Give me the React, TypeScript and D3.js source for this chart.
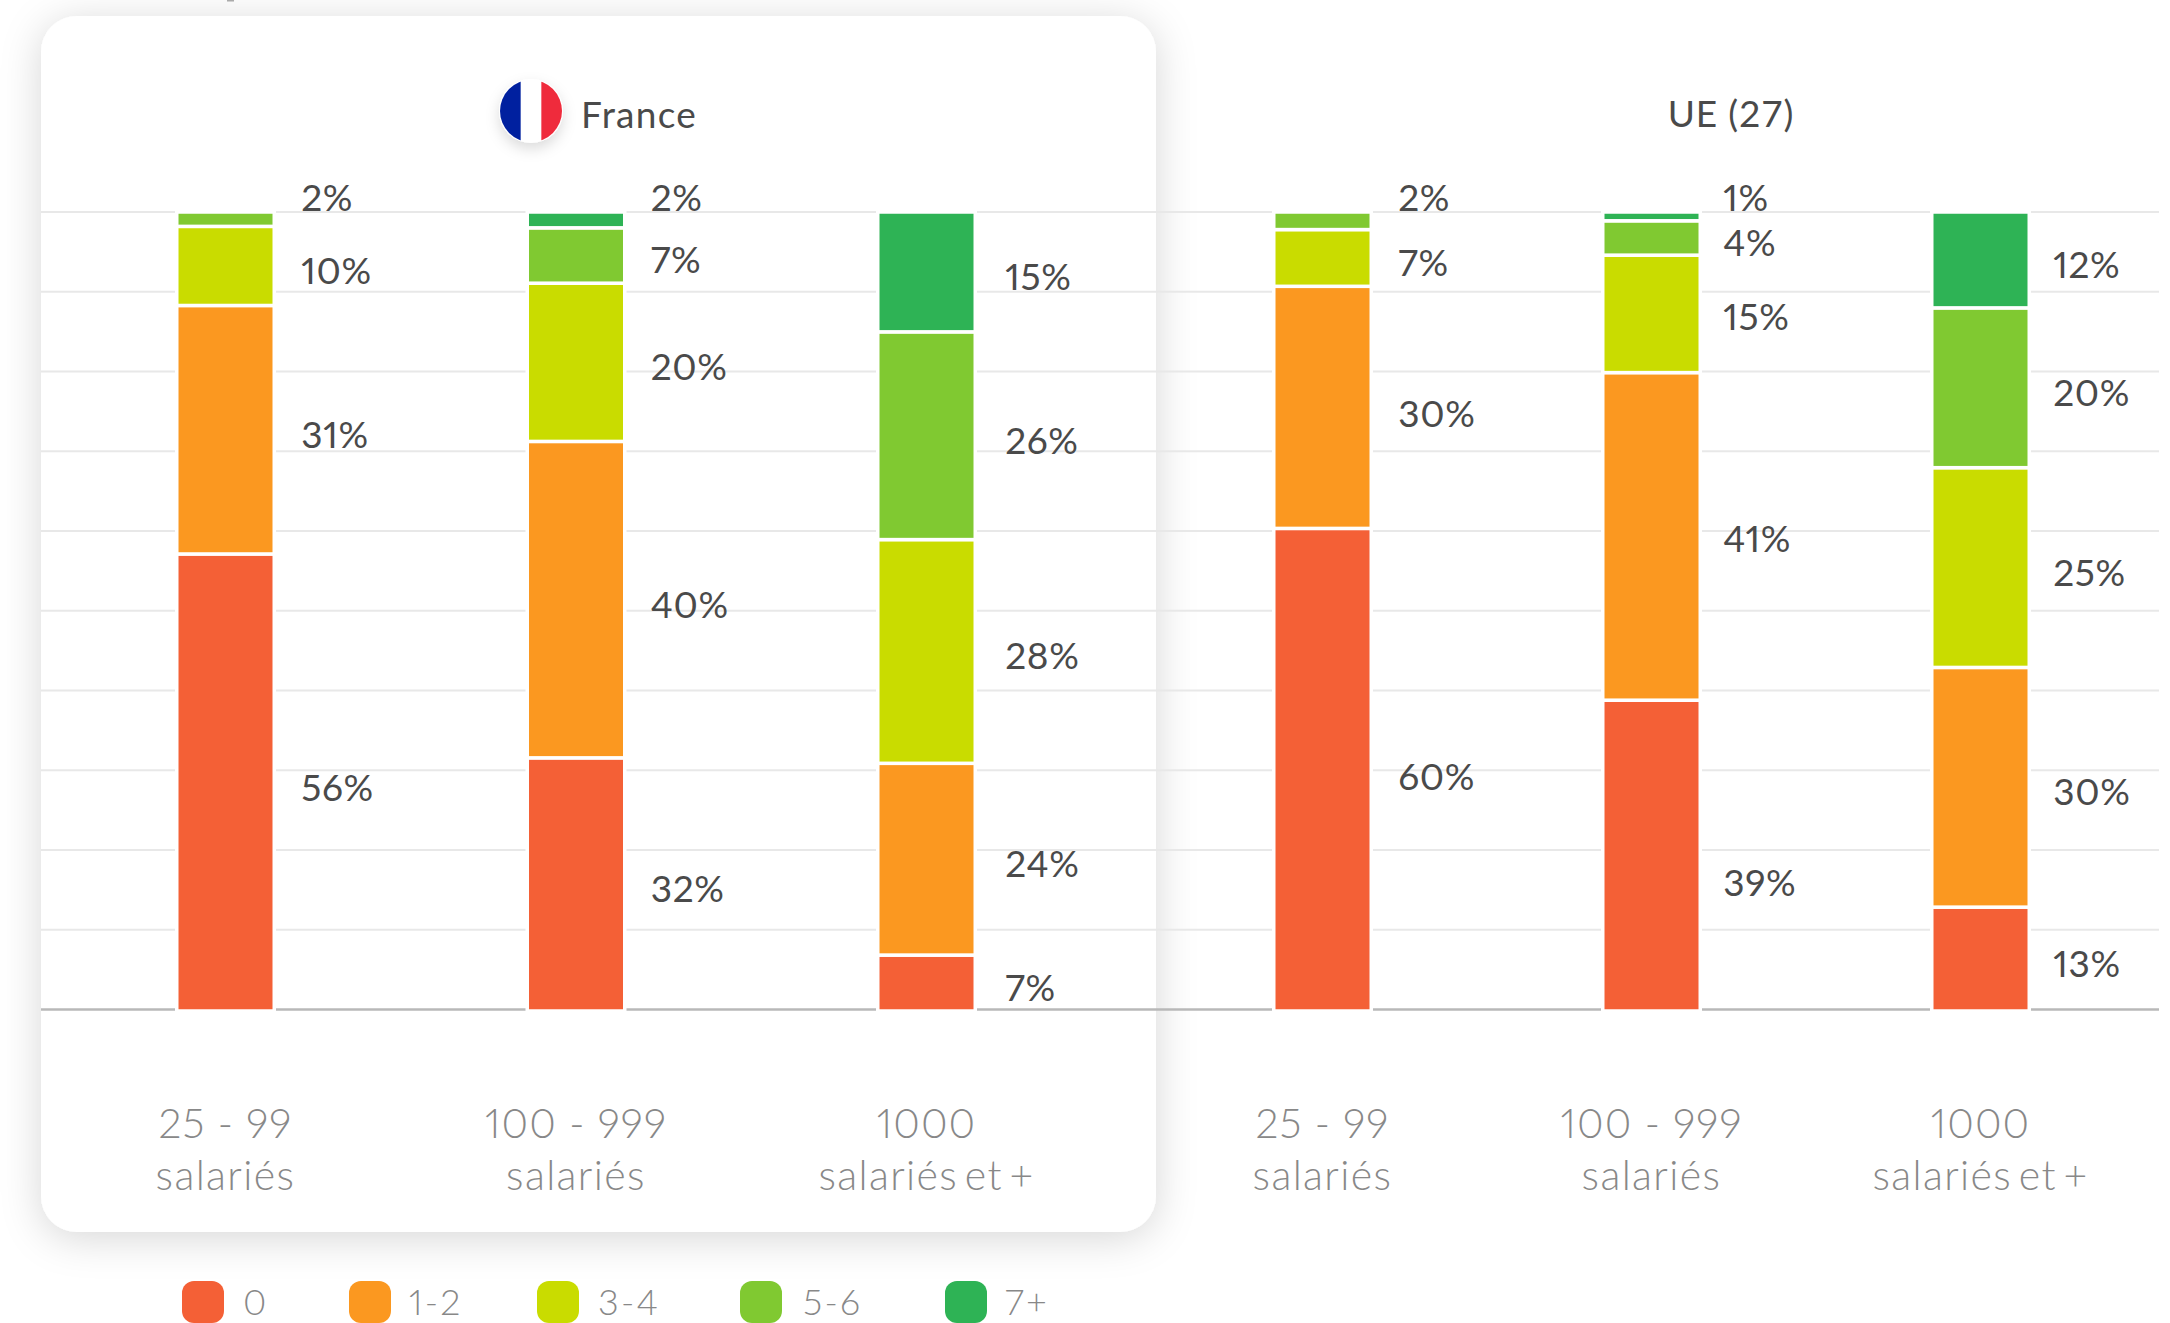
import React, { useEffect, useRef } from 'react';
import * as d3 from 'd3';

const legendKeys = ['0', '1-2', '3-4', '5-6', '7+'];
const colors = ['#F46036', '#FB9820', '#C9DC00', '#80C931', '#2EB355'];

const sizes = ['25 - 99', '100 - 999', '1000'];
const sizesLine2 = ['salariés', 'salariés', 'salariés et +'];

// one array per size class, bottom segment first
const franceSmall = [56, 31, 10, 2, 0];
const franceMid = [32, 40, 20, 7, 2];
const franceLarge = [7, 24, 28, 26, 15];
const ueSmall = [60, 30, 7, 2, 0];
const ueMid = [39, 41, 15, 4, 1];
const ueLarge = [13, 30, 25, 20, 12];

const franceSmallHeights = [57.2, 31.1, 9.9, 1.8, 0];
const ueSmallHeights = [60.4, 30.3, 7.1, 2.2, 0];
const ueMidHeights = [38.9, 41, 14.7, 4.3, 1.1];

const gridTicks = d3.range(0, 1.01, 0.1);

const WIDTH = 2170;
const HEIGHT = 1323;

const App = () => {
  const svgRef = useRef<SVGSVGElement>(null);

  useEffect(() => {
    const svg = d3.select(svgRef.current);
    svg.selectAll('*').remove();

    const font = 'Lato, sans-serif';
    const y = d3.scaleLinear().domain([0, 1]).range([1011, 212]);
    const gridY = d3.scaleLinear().domain([0, 1]).range([1009.5, 212]);

    const defs = svg.append('defs');
    const shadow = defs.append('filter').attr('id', 'card-shadow')
      .attr('x', '-10%').attr('y', '-10%').attr('width', '120%').attr('height', '120%');
    shadow.append('feDropShadow').attr('dx', 0).attr('dy', 6).attr('stdDeviation', 20)
      .attr('flood-color', '#000').attr('flood-opacity', 0.16);
    const flagShadow = defs.append('filter').attr('id', 'flag-shadow')
      .attr('x', '-50%').attr('y', '-50%').attr('width', '200%').attr('height', '200%');
    flagShadow.append('feDropShadow').attr('dx', 0).attr('dy', 6).attr('stdDeviation', 7)
      .attr('flood-color', '#000').attr('flood-opacity', 0.14);
    defs.append('clipPath').attr('id', 'flag-clip')
      .append('circle').attr('cx', 531).attr('cy', 111).attr('r', 31);

    // card behind the France panel
    svg.append('rect').attr('x', 41).attr('y', 16).attr('width', 1115).attr('height', 1216)
      .attr('rx', 36).attr('fill', '#fff').attr('filter', 'url(#card-shadow)');

    // bit of cropped text from above the chart
    svg.append('rect').attr('x', 227).attr('y', 0).attr('width', 7).attr('height', 1.5).attr('fill', '#aaa');

    // grid
    svg.selectAll('.grid').data(gridTicks).enter().append('line')
      .attr('x1', 41).attr('x2', 2159)
      .attr('y1', d => gridY(d)).attr('y2', d => gridY(d))
      .attr('stroke', d => (d === 0 ? '#b8b8b8' : '#e8e8e8'))
      .attr('stroke-width', d => (d === 0 ? 2.5 : 2));

    const stack = d3.stack<number[]>()
      .keys(legendKeys.map((_, i) => String(i)))
      .value((row, key) => row[+key])
      .offset(d3.stackOffsetExpand);

    const panels = [
      {
        labels: [franceSmall, franceMid, franceLarge],
        rows: [franceSmallHeights, franceMid, franceLarge],
        range: [225.5, 926.5],
        offsets: [28, 27, 31],
        nudge: { '0-0': 1 },
      },
      {
        labels: [ueSmall, ueMid, ueLarge],
        rows: [ueSmallHeights, ueMidHeights, ueLarge],
        range: [1322.5, 1980.5],
        offsets: [28, 24, 25],
        nudge: { '0-0': 2, '0-1': 2, '1-0': 22, '1-1': -2, '1-2': -2 }, // labels off centre in the reference
      },
    ];
    const barWidth = 97.5;

    panels.forEach(panel => {
      const x = d3.scalePoint<string>().domain(sizes).range(panel.range);
      const layers = stack(panel.rows);

      layers.forEach((layer, k) => {
        layer.forEach((seg, c) => {
          const value = panel.labels[c][k];
          if (!value) return;
          const cx = x(sizes[c]) as number;
          svg.append('rect')
            .attr('x', cx - barWidth / 2)
            .attr('y', y(seg[1]))
            .attr('width', barWidth)
            .attr('height', y(seg[0]) - y(seg[1]))
            .attr('fill', colors[k])
            .attr('stroke', '#fff')
            .attr('stroke-width', 3.5);
          // tiny shares can't fit, their label goes above the bar
          const nudge = panel.nudge[`${c}-${k}`] || 0;
          const labelY = value <= 2 ? 198 : (y(seg[0]) + y(seg[1])) / 2 + 5 + nudge;
          svg.append('text')
            .attr('x', cx + barWidth / 2 + panel.offsets[c] - 1)
            .attr('y', labelY)
            .attr('dy', '0.35em')
            .attr('font-family', font)
            .attr('font-size', 37)
            .style('font-feature-settings', '"pnum"')
            .style('letter-spacing', '0.6px')
            .attr('fill', '#4a4a4a')
            .text(`${value}%`);
        });
      });

      sizes.forEach((s, c) => {
        const cx = x(s) as number;
        svg.append('text')
          .attr('x', cx).attr('y', 1138)
          .attr('text-anchor', 'middle')
          .attr('font-family', font)
          .attr('font-weight', 300)
          .attr('font-size', 41)
          .style('font-feature-settings', '"pnum"')
          .style('letter-spacing', '1.1px')
          .attr('fill', '#888')
          .text(s);
        svg.append('text')
          .attr('x', cx).attr('y', 1190)
          .attr('text-anchor', 'middle')
          .attr('font-family', font)
          .attr('font-weight', 300)
          .attr('font-size', 41)
          .style('letter-spacing', '1.4px')
          .style('word-spacing', '-6px')
          .attr('fill', '#888')
          .text(sizesLine2[c]);
      });
    });

    // flag
    svg.append('circle').attr('cx', 531).attr('cy', 111).attr('r', 32)
      .attr('fill', '#fff').attr('filter', 'url(#flag-shadow)');
    const flag = svg.append('g').attr('clip-path', 'url(#flag-clip)');
    ['#00209F', '#fff', '#EF2B3C'].forEach((c, i) => {
      flag.append('rect').attr('x', 500 + i * 20.67).attr('y', 80)
        .attr('width', 21).attr('height', 62).attr('fill', c);
    });

    svg.append('text').attr('x', 581).attr('y', 128)
      .attr('font-family', font).attr('font-size', 37).style('letter-spacing', '1.3px')
      .attr('fill', '#4a4a4a').text('France');
    svg.append('text').attr('x', 1731).attr('y', 127).attr('text-anchor', 'middle')
      .attr('font-family', font).attr('font-size', 37).style('letter-spacing', '0.8px')
      .attr('fill', '#4a4a4a').text('UE (27)');

    // legend
    const swatchX = [182, 349, 537, 740, 945];
    const labelX = [243, 409, 598, 803, 1005];
    legendKeys.forEach((k, i) => {
      svg.append('rect').attr('x', swatchX[i]).attr('y', 1281)
        .attr('width', 42).attr('height', 42).attr('rx', 12).attr('fill', colors[i]);
      svg.append('text').attr('x', labelX[i]).attr('y', 1315)
        .attr('font-family', font).attr('font-weight', 300).attr('font-size', 36)
        .style('font-feature-settings', '"pnum"')
        .style('letter-spacing', '2.2px')
        .attr('fill', '#888').text(k);
    });
  }, []);

  return (
    <svg
      ref={svgRef}
      width={WIDTH}
      height={HEIGHT}
      style={{ position: 'absolute', left: 0, top: 0, display: 'block', background: '#fff' }}
    />
  );
};

export default App;
